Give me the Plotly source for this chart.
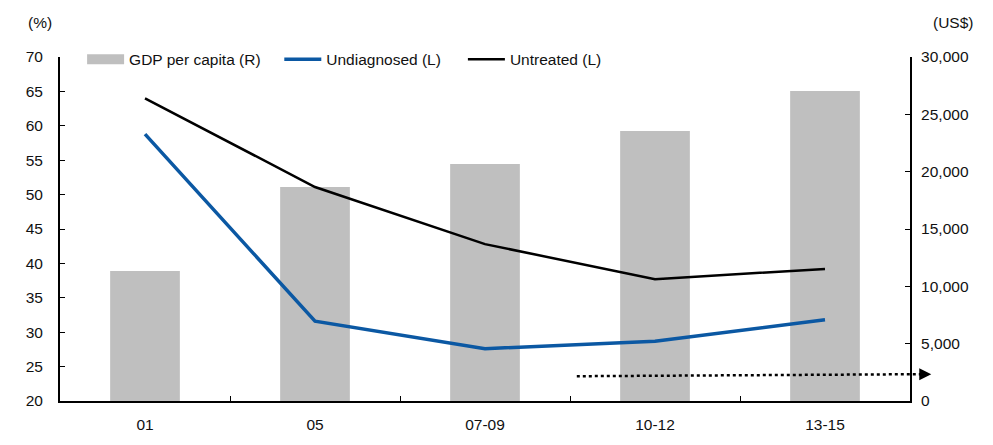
import plotly.graph_objects as go

# Survey periods
periods = ["01", "05", "07-09", "10-12", "13-15"]

# GDP per capita, US$ (right axis)
gdp_per_capita = [11340, 18660, 20670, 23550, 27030]

# Share of patients, % (left axis)
undiagnosed = [58.8, 31.6, 27.6, 28.7, 31.8]
untreated = [64.0, 51.1, 42.8, 37.7, 39.2]

left_ticks = [20, 25, 30, 35, 40, 45, 50, 55, 60, 65, 70]
right_ticks = [0, 5000, 10000, 15000, 20000, 25000, 30000]

FONT = "Liberation Sans, Arial, sans-serif"
FS = 15.5
TXT = "#111111"
GREY = "#BFBFBF"
BLUE = "#0B58A3"

fig = go.Figure()

fig.add_trace(go.Bar(
    x=periods, y=gdp_per_capita, name="GDP per capita (R)",
    marker=dict(color=GREY, line=dict(width=0)),
    width=0.41, yaxis="y", showlegend=False, legendgroup="gdp",
))
# Wide swatch for the bar series in the legend
fig.add_trace(go.Scatter(
    x=[None], y=[None], name="GDP per capita (R)", mode="lines",
    line=dict(color=GREY, width=11), yaxis="y", legend="legend",
    legendgroup="gdp",
))
fig.add_trace(go.Scatter(
    x=periods, y=undiagnosed, name="Undiagnosed (L)", mode="lines",
    line=dict(color=BLUE, width=3.5), yaxis="y2", legend="legend2",
))
fig.add_trace(go.Scatter(
    x=periods, y=untreated, name="Untreated (L)", mode="lines",
    line=dict(color="#000000", width=2.5), yaxis="y2", legend="legend3",
))

axis_common = dict(
    showgrid=False, zeroline=False, showline=True, linecolor="black",
    linewidth=2, ticks="inside", ticklen=5, tickcolor="black", tickwidth=1,
    tickfont=dict(family=FONT, size=FS, color=TXT),
)


def legend_at(x):
    return dict(
        orientation="h", x=x, y=0.992, xanchor="left", yanchor="middle",
        bgcolor="rgba(0,0,0,0)", font=dict(family=FONT, size=FS, color=TXT),
        itemwidth=37, borderwidth=0,
    )


fig.update_layout(
    width=993, height=445,
    margin=dict(l=60, r=83, t=57, b=44),
    paper_bgcolor="white", plot_bgcolor="white",
    font=dict(family=FONT, size=FS, color=TXT),
    bargap=0.59,
    showlegend=True,
    legend=legend_at(0.026),
    legend2=legend_at(0.258),
    legend3=legend_at(0.474),
    xaxis=dict(
        type="category", range=[-0.5, 4.5], tickson="boundaries",
        showgrid=False, zeroline=False, showline=True, linecolor="black",
        linewidth=2, ticks="inside", ticklen=5, tickcolor="black",
        ticklabelstandoff=8,
        tickfont=dict(family=FONT, size=FS, color=TXT),
    ),
    yaxis=dict(
        range=[0, 30000], tickvals=right_ticks, tickformat=",",
        side="right", ticklabelstandoff=6, **axis_common,
    ),
    yaxis2=dict(
        range=[20, 70], tickvals=left_ticks, side="left",
        overlaying="y", anchor="x", ticklabelstandoff=12, **axis_common,
    ),
)

# Unit labels above the axes
fig.add_annotation(text="(%)", xref="paper", yref="paper", x=-0.0235, y=1.07,
                   xanchor="center", yanchor="bottom", showarrow=False,
                   font=dict(family=FONT, size=FS, color=TXT))
fig.add_annotation(text="(US$)", xref="paper", yref="paper", x=1.025, y=1.07,
                   xanchor="left", yanchor="bottom", showarrow=False,
                   font=dict(family=FONT, size=FS, color=TXT))

# Dotted trend arrow along the bottom right
fig.add_shape(type="line", xref="paper", yref="y2",
              x0=0.608, y0=23.6, x1=1.012, y1=23.9,
              line=dict(color="black", width=2.5, dash="dot"))
fig.add_annotation(xref="paper", yref="y2", axref="pixel", ayref="pixel",
                   x=1.025, y=23.9, ax=-12, ay=0, text="",
                   showarrow=True, arrowhead=2, arrowsize=1.2, arrowwidth=2,
                   arrowcolor="black")

fig.write_html("out.html")
